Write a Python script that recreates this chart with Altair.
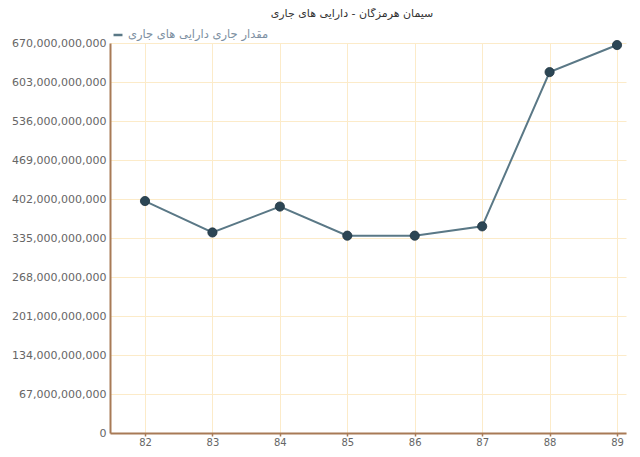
import altair as alt
import pandas as pd

years = [82, 83, 84, 85, 86, 87, 88, 89]
values = [398.5e9, 344.5e9, 389e9, 339e9, 339e9, 355e9, 620e9, 666.5e9]
series_name = "مقدار جاری دارایی های جاری"
title_text = "سیمان هرمزگان - دارایی های جاری"
y_ticks = [i * 67e9 for i in range(11)]

df = pd.DataFrame({"year": years, "value": values, "series": [series_name] * len(years)})

x_enc = alt.X("year:Q", scale=alt.Scale(domain=[81.481, 89.133], nice=False, zero=False),
              axis=alt.Axis(values=years, format="d", title=None, grid=True))
y_enc = alt.Y("value:Q", scale=alt.Scale(domain=[0, 670e9], nice=False),
              axis=alt.Axis(values=y_ticks, format=",.0f", title=None, grid=True, ticks=False,
                            labelPadding=4, labelFontSize=11))
color_enc = alt.Color("series:N", scale=alt.Scale(range=["#5a7886"]),
                      legend=alt.Legend(title=None, orient="none", legendX=2, legendY=-14,
                                        symbolType="stroke", symbolStrokeWidth=2.5, symbolSize=80,
                                        symbolStrokeColor="#2f4858",
                                        labelColor="#7d90a2", labelFontSize=11.5, labelFont="DejaVu Sans",
                                        padding=0))

base = alt.Chart(df)
line = base.mark_line(strokeWidth=2).encode(x=x_enc, y=y_enc, color=color_enc)
pts = base.mark_circle(size=85, color="#2c4655", opacity=1, stroke="#1f3440", strokeWidth=0.8).encode(x=x_enc, y=y_enc)

chart = alt.layer(line, pts).properties(
    width=516, height=390,
    autosize=alt.AutoSizeParams(type="none"),
    padding={"left": 102, "top": 35, "right": 6, "bottom": 16},
    title=alt.TitleParams(title_text, anchor="middle", frame="group", dx=-16, offset=10, fontSize=11,
                          fontWeight="normal", color="#333333", font="DejaVu Sans"),
).configure_view(stroke=None).configure_axis(
    domainColor="#a87a56", domainWidth=2, gridColor="#fcebc9", gridWidth=1,
    labelColor="#666666", labelFontSize=10, labelFont="DejaVu Sans",
    tickColor="#a87a56", tickWidth=1.5, tickSize=3,
).configure_axisX(labelPadding=1)

chart.save("out.html", embed_options={"renderer": "svg", "actions": False})
